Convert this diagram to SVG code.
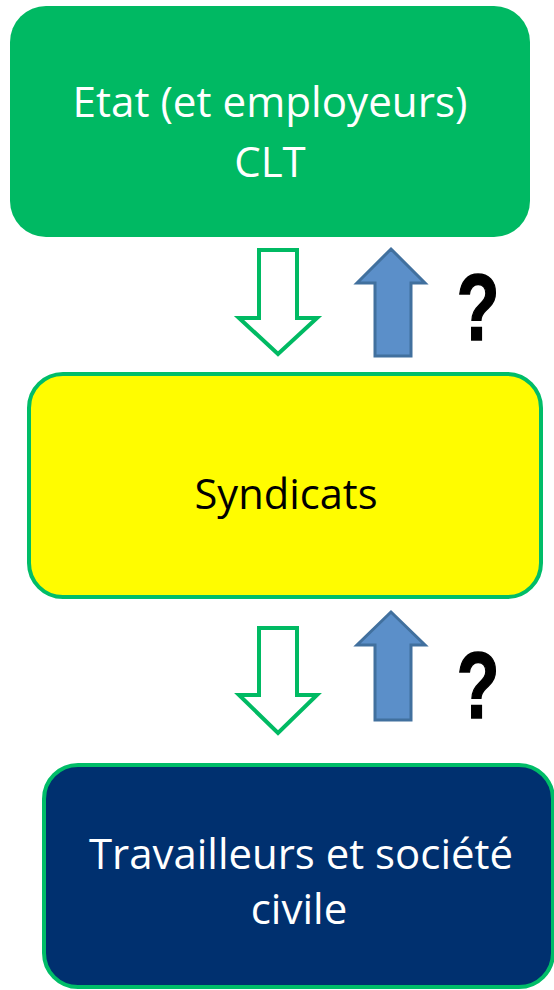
<svg xmlns="http://www.w3.org/2000/svg" width="554" height="990" viewBox="0 0 554 990">
<style>
.lbl{font-family:"Open Sans","Noto Sans","Liberation Sans",sans-serif;font-size:42px;text-anchor:middle}
.q{font-family:"Liberation Sans",Arial,sans-serif;font-weight:bold;font-size:94px;text-anchor:middle;fill:#000;stroke:#000;stroke-width:1.5}
.down{fill:#fff;stroke:#00BA63;stroke-width:4;stroke-linejoin:miter}
.up{fill:#5B8FC9;stroke:#41709E;stroke-width:3}
</style>
<rect width="554" height="990" fill="#fff"/>
<g id="node-etat">
<rect x="10" y="6" width="520" height="231" rx="36" fill="#00B963"/>
<text class="lbl" x="270" y="117" fill="#fff" textLength="395" lengthAdjust="spacingAndGlyphs">Etat (et employeurs)</text>
<text class="lbl" x="270" y="177" fill="#fff">CLT</text>
</g>
<g id="node-syndicats">
<rect x="29" y="374" width="512" height="223" rx="34" fill="#FFFC00" stroke="#00BD68" stroke-width="4"/>
<text class="lbl" x="286" y="509" fill="#000" textLength="183" lengthAdjust="spacingAndGlyphs">Syndicats</text>
</g>
<g id="node-travailleurs">
<rect x="44" y="765" width="509" height="222" rx="34" fill="#00306F" stroke="#00BD68" stroke-width="4"/>
<text class="lbl" x="301" y="869" fill="#fff" textLength="424" lengthAdjust="spacingAndGlyphs">Travailleurs et société</text>
<text class="lbl" x="299" y="924" fill="#fff">civile</text>
</g>
<g id="connectors">
<path class="down" d="M259 250 H297 V318 H317 L278 354 L239 318 H259 Z"/>
<path class="up" d="M391 249 L425 283 H411 V356 H375 V283 H357 Z"/>
<text class="q" x="478" y="340" transform="translate(478 0) scale(0.75 1) translate(-478 0)">?</text>
<path class="down" d="M259 628 H297 V695 H317 L278 733 L239 695 H259 Z"/>
<path class="up" d="M391 612 L425 645 H411 V720 H375 V645 H357 Z"/>
<text class="q" x="478" y="718" transform="translate(478 0) scale(0.75 1) translate(-478 0)">?</text>
</g>
</svg>
